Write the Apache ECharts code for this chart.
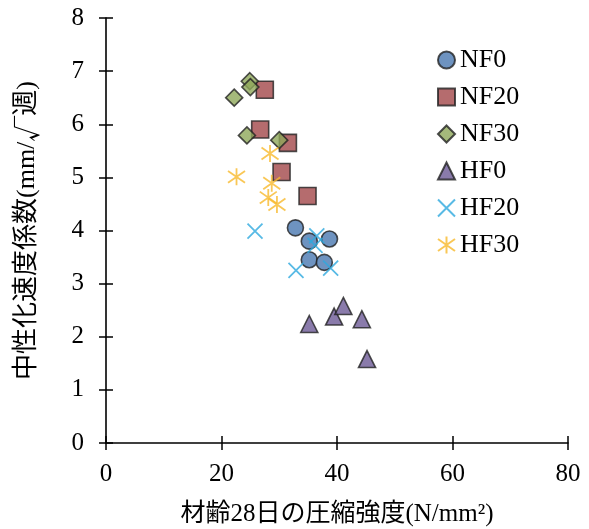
<!DOCTYPE html>
<html><head><meta charset="utf-8">
<script src="https://cdn.jsdelivr.net/npm/echarts@6/dist/echarts.min.js"></script>
<style>html,body{margin:0;padding:0;background:#fff}#c{width:589px;height:529px}</style>
</head><body><div id="c"></div>
<script>
const seriesNames = ['NF0','NF20','NF30','HF0','HF20','HF30'];
const NF0  = [[32.8,4.05],[35.2,3.80],[38.7,3.84],[35.2,3.45],[37.8,3.40]];
const NF20 = [[27.5,6.65],[26.7,5.90],[31.5,5.65],[30.4,5.10],[34.9,4.65]];
const NF30 = [[24.9,6.81],[25.0,6.70],[22.2,6.50],[24.4,5.79],[30.0,5.70]];
const HF0  = [[35.2,2.24],[39.5,2.38],[41.1,2.58],[44.3,2.33],[45.2,1.58]];
const HF20 = [[25.8,3.99],[36.5,3.90],[36.2,3.72],[32.9,3.25],[38.9,3.29]];
const HF30 = [[28.4,5.45],[22.6,5.01],[28.7,4.89],[28.1,4.62],[29.6,4.49]];
const xTicks = [0,20,40,60,80];
const yTicks = [0,1,2,3,4,5,6,7,8];
const xName = '材齢28日の圧縮強度(N/mm²)';
const yNameParts = ['中性化速度係数(mm/', '√', '週)'];

const FONT = '"Liberation Serif","Noto Sans CJK JP",serif';
const CJK = '"Noto Sans CJK JP",sans-serif';
const dark = '#222222';
const chart = echarts.init(document.getElementById('c'), null, {renderer:'canvas'});
const baseAxis = {
  axisLine:{show:true,lineStyle:{color:'#000',width:1.6}},
  splitLine:{show:false}
};
const mk = (name, data, symbol, size, color, stroke) => ({
  name, type:'scatter', data, symbol, symbolSize:size,
  itemStyle: stroke ? {color:'rgba(0,0,0,0)', borderColor:color, borderWidth:1.8}
                    : {color, borderColor:dark, borderWidth:1.6},
  z: 3
});
chart.setOption({
  animation:false,
  backgroundColor:'#fff',
  grid:{left:106,right:21,top:18,bottom:86,containLabel:false,outerBoundsMode:'none'},
  legend:{
    orient:'vertical', left:432, top:42, itemGap:11, itemWidth:17, itemHeight:17,
    textStyle:{fontFamily:FONT,fontSize:26,color:'#000'},
    data:seriesNames
  },
  xAxis:[
    Object.assign({}, baseAxis, {type:'value',min:0,max:80,interval:20,position:'bottom',
      axisTick:{show:true,inside:false,length:7,lineStyle:{color:'#000',width:1.5}},
      axisLabel:{fontFamily:FONT,fontSize:25,color:'#000',margin:19,
        formatter:v=>xTicks.includes(v)?String(v):''},
      name:xName, nameLocation:'middle', nameGap:59,
      nameTextStyle:{fontFamily:FONT,fontSize:25,color:'#000'}}),
    {type:'value',min:0,max:80,interval:20,position:'bottom',offset:0,
      axisLine:{show:false},splitLine:{show:false},axisLabel:{show:false},
      axisTick:{show:true,inside:true,length:7,lineStyle:{color:'#000',width:1.5}}}
  ],
  yAxis:[
    Object.assign({}, baseAxis, {type:'value',min:0,max:8,interval:1,position:'left',
      axisTick:{show:true,inside:false,length:7,lineStyle:{color:'#000',width:1.5}},
      axisLabel:{fontFamily:FONT,fontSize:25,color:'#000',margin:22,
        formatter:v=>yTicks.includes(v)?String(v):''},
      name:'{a|'+yNameParts[0]+'}{b|'+yNameParts[1]+'}{a|'+yNameParts[2]+'}',
      nameLocation:'middle', nameGap:66, nameRotate:90,
      nameTextStyle:{color:'#000',
        rich:{a:{fontFamily:FONT,fontSize:26,color:'#000'},
              b:{fontFamily:CJK,fontSize:26,color:'#000'}}}}),
    {type:'value',min:0,max:8,interval:1,position:'left',offset:0,
      axisLine:{show:false},splitLine:{show:false},axisLabel:{show:false},
      axisTick:{show:true,inside:true,length:7,lineStyle:{color:'#000',width:1.5}}}
  ],
  series:[
    mk('NF0', NF0, 'circle', 16, '#4a78b0'),
    mk('NF20', NF20, 'rect', 17, '#a3474a'),
    mk('NF30', NF30, 'diamond', 17, '#8ea75a'),
    mk('HF0', HF0, 'triangle', 17, '#6d5a96'),
    mk('HF20', HF20, 'path://M0,0L10,10M0,10L10,0', 15, '#2ea9df', true),
    mk('HF30', HF30, 'path://M0,1.5L10,8.5M0,8.5L10,1.5M5,0L5,10', 17, '#f7b92c', true)
  ]
});
</script></body></html>
